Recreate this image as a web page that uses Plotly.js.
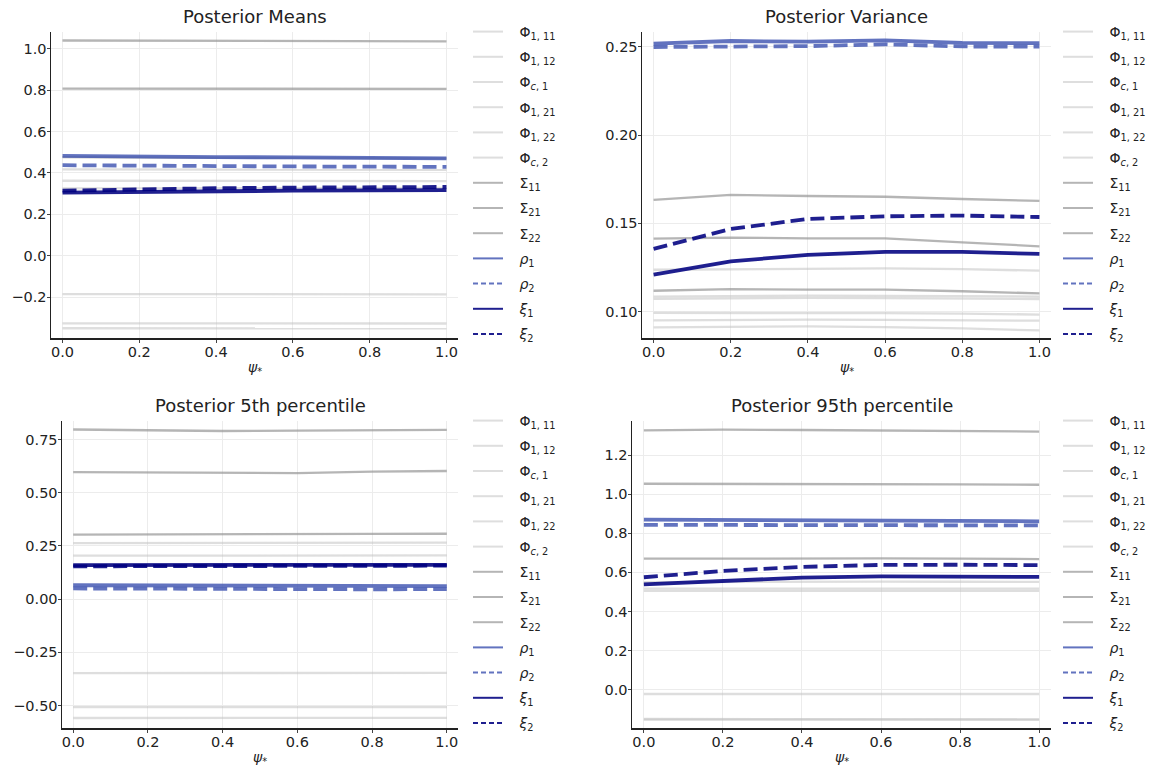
<!DOCTYPE html>
<html>
<head>
<meta charset="utf-8">
<script src="https://cdn.plot.ly/plotly-3.0.1.min.js"></script>
<style>
  html, body { margin: 0; padding: 0; background: #ffffff; }
  #chart { width: 1151px; height: 767px; }
</style>
</head>
<body>
<div id="chart"></div>
<script>
// Grid of psi* values at which the posterior summaries were computed
const psi = [0.0, 0.2, 0.4, 0.6, 0.8, 1.0];

const seriesNames = [
  'Φ<sub>1, 11</sub>', 'Φ<sub>1, 12</sub>', 'Φ<sub><i>c</i>, 1</sub>',
  'Φ<sub>1, 21</sub>', 'Φ<sub>1, 22</sub>', 'Φ<sub><i>c</i>, 2</sub>',
  'Σ<sub>11</sub>', 'Σ<sub>21</sub>', 'Σ<sub>22</sub>',
  '<i>ρ</i><sub>1</sub>', '<i>ρ</i><sub>2</sub>',
  '<i>ξ</i><sub>1</sub>', '<i>ξ</i><sub>2</sub>'
];

const panelTitles = ['Posterior Means', 'Posterior Variance',
                     'Posterior 5th percentile', 'Posterior 95th percentile'];
const xTitle = '<i>ψ</i><sub>*</sub>';

// Rows follow seriesNames order
const postMean = [
  [0.417, 0.417, 0.416, 0.416, 0.415, 0.415],
  [0.362, 0.362, 0.361, 0.361, 0.361, 0.360],
  [0.325, 0.326, 0.327, 0.327, 0.328, 0.328],
  [-0.185, -0.185, -0.186, -0.186, -0.186, -0.186],
  [-0.326, -0.326, -0.327, -0.327, -0.327, -0.327],
  [-0.350, -0.350, -0.350, -0.351, -0.351, -0.351],
  [1.039, 1.038, 1.036, 1.036, 1.035, 1.035],
  [0.476, 0.474, 0.473, 0.472, 0.471, 0.470],
  [0.807, 0.807, 0.806, 0.805, 0.805, 0.805],
  [0.482, 0.477, 0.476, 0.475, 0.472, 0.470],
  [0.437, 0.434, 0.432, 0.431, 0.430, 0.429],
  [0.305, 0.309, 0.312, 0.314, 0.316, 0.317],
  [0.314, 0.321, 0.326, 0.329, 0.331, 0.332]
];

const postVariance = [
  [0.1237, 0.1240, 0.1243, 0.1245, 0.1240, 0.1232],
  [0.1085, 0.1088, 0.1090, 0.1089, 0.1087, 0.1085],
  [0.1072, 0.1075, 0.1077, 0.1076, 0.1074, 0.1071],
  [0.0992, 0.0993, 0.0993, 0.0991, 0.0988, 0.0983],
  [0.0950, 0.0953, 0.0954, 0.0953, 0.0951, 0.0948],
  [0.0910, 0.0914, 0.0916, 0.0912, 0.0905, 0.0893],
  [0.1633, 0.1661, 0.1655, 0.1651, 0.1638, 0.1627],
  [0.1118, 0.1127, 0.1124, 0.1124, 0.1115, 0.1103],
  [0.1413, 0.1419, 0.1415, 0.1415, 0.1392, 0.1370],
  [0.2519, 0.2534, 0.2530, 0.2537, 0.2523, 0.2522],
  [0.2500, 0.2503, 0.2505, 0.2515, 0.2503, 0.2502],
  [0.1209, 0.1285, 0.1321, 0.1338, 0.1338, 0.1327],
  [0.1355, 0.1468, 0.1525, 0.1540, 0.1544, 0.1536]
];

const post05 = [
  [0.263, 0.263, 0.262, 0.262, 0.264, 0.265],
  [0.204, 0.204, 0.203, 0.203, 0.204, 0.205],
  [0.160, 0.160, 0.161, 0.161, 0.161, 0.162],
  [-0.348, -0.348, -0.349, -0.349, -0.348, -0.347],
  [-0.508, -0.508, -0.509, -0.509, -0.508, -0.508],
  [-0.559, -0.559, -0.559, -0.560, -0.559, -0.558],
  [0.797, 0.793, 0.790, 0.792, 0.795, 0.795],
  [0.303, 0.303, 0.304, 0.304, 0.306, 0.307],
  [0.597, 0.596, 0.595, 0.592, 0.599, 0.602],
  [0.065, 0.064, 0.063, 0.062, 0.062, 0.061],
  [0.050, 0.048, 0.048, 0.047, 0.046, 0.047],
  [0.160, 0.160, 0.161, 0.161, 0.161, 0.161],
  [0.154, 0.155, 0.156, 0.156, 0.157, 0.157]
];

const post95 = [
  [0.550, 0.552, 0.553, 0.553, 0.552, 0.551],
  [0.517, 0.517, 0.518, 0.518, 0.517, 0.517],
  [0.505, 0.505, 0.506, 0.506, 0.505, 0.505],
  [-0.022, -0.022, -0.023, -0.023, -0.023, -0.022],
  [-0.150, -0.150, -0.151, -0.151, -0.151, -0.151],
  [-0.153, -0.153, -0.153, -0.154, -0.154, -0.154],
  [1.326, 1.330, 1.328, 1.326, 1.324, 1.320],
  [0.670, 0.671, 0.671, 0.671, 0.670, 0.668],
  [1.053, 1.053, 1.052, 1.052, 1.050, 1.048],
  [0.870, 0.868, 0.866, 0.866, 0.863, 0.861],
  [0.843, 0.842, 0.842, 0.842, 0.840, 0.840],
  [0.538, 0.557, 0.573, 0.579, 0.579, 0.577],
  [0.575, 0.607, 0.628, 0.638, 0.639, 0.637]
];

const panelData = [postMean, postVariance, post05, post95];

// Line styling per series
const phiColor   = 'rgba(190,190,190,0.5)';
const sigmaColor = 'rgba(150,150,150,0.7)';
const rhoColor   = 'rgba(70,90,180,0.85)';
const xiColor    = 'rgba(0,0,128,0.88)';
const seriesColor = [phiColor, phiColor, phiColor, phiColor, phiColor, phiColor,
                     sigmaColor, sigmaColor, sigmaColor,
                     rhoColor, rhoColor, xiColor, xiColor];
const seriesWidth = [2.3, 2.3, 2.3, 2.3, 2.3, 2.3, 2.3, 2.3, 2.3, 3.8, 3.8, 3.8, 3.8];
const seriesDashed = [false, false, false, false, false, false, false, false, false,
                      false, true, false, true];

// Panel placement in pixels and y-axis settings
const W = 1151, H = 767;
const panels = [
  { x0: 51, x1: 458, y0: 32, y1: 338, yr: [-0.397, 1.08], dtick: 0.2, fmt: '.1f' },
  { x0: 642, x1: 1051, y0: 32, y1: 338, yr: [0.085, 0.2585], dtick: 0.05, fmt: '.2f' },
  { x0: 62, x1: 458, y0: 421, y1: 728, yr: [-0.606, 0.837], dtick: 0.25, fmt: '.2f' },
  { x0: 632, x1: 1051, y0: 421, y1: 728, yr: [-0.196, 1.374], dtick: 0.2, fmt: '.1f' }
];
const legendLeft = [468, 1058, 468, 1058];

const font = 'DejaVu Sans, sans-serif';
const ink = '#222222';
const pad = '\u2002\u00a0';
const traces = [];
const legendTraces = [];
const layout = {
  width: W, height: H,
  margin: { l: 0, r: 0, t: 0, b: 0 },
  paper_bgcolor: '#ffffff',
  plot_bgcolor: '#ffffff',
  font: { family: font, size: 14, color: ink },
  showlegend: true,
  annotations: []
};

panels.forEach((p, i) => {
  const k = i === 0 ? '' : String(i + 1);
  const legendKey = 'legend' + k;
  panelData[i].forEach((vals, s) => {
    const dash = seriesDashed[s];
    traces.push({
      type: 'scatter', mode: 'lines',
      x: psi, y: vals,
      xaxis: 'x' + k, yaxis: 'y' + k,
      showlegend: false,
      line: { color: seriesColor[s], width: seriesWidth[s], dash: dash ? '14px,6px' : 'solid' },
      hoverinfo: 'skip'
    });
    // thin key line for the legend box
    legendTraces.push({
      type: 'scatter', mode: 'lines',
      x: [null], y: [null],
      xaxis: 'x' + k, yaxis: 'y' + k,
      name: pad + seriesNames[s],
      legend: legendKey,
      legendgroup: 'g' + i + '_' + s,
      line: { color: seriesColor[s], width: 2, dash: dash ? '5px,3px' : 'solid' },
      hoverinfo: 'skip'
    });
  });

  const axisCommon = {
    showline: true, linecolor: ink, linewidth: 1.5, mirror: false,
    showgrid: true, gridcolor: '#ececec', gridwidth: 1,
    zeroline: false,
    ticks: 'outside', ticklen: 3, tickwidth: 1, tickcolor: '#444444',
    ticklabelstandoff: -3,
    tickfont: { family: font, size: 14.5, color: ink }
  };
  layout['xaxis' + k] = Object.assign({}, axisCommon, {
    domain: [p.x0 / W, p.x1 / W],
    anchor: 'y' + k,
    range: [-0.03, 1.03],
    tick0: 0, dtick: 0.2, tickformat: '.1f'
  });
  layout['yaxis' + k] = Object.assign({}, axisCommon, {
    domain: [1 - p.y1 / H, 1 - p.y0 / H],
    anchor: 'x' + k,
    range: p.yr,
    tick0: 0, dtick: p.dtick, tickformat: p.fmt
  });
  layout[legendKey] = {
    x: legendLeft[i] / W, xanchor: 'left',
    y: 1 - (p.y0 - 16) / H, yanchor: 'top',
    bgcolor: 'rgba(0,0,0,0)', borderwidth: 0,
    font: { family: font, size: 14, color: ink },
    tracegroupgap: 4,
    itemclick: false, itemdoubleclick: false
  };
  layout.annotations.push({
    xref: 'paper', yref: 'paper',
    x: (p.x0 + p.x1) / 2 / W, y: 1 - (p.y0 - 15) / H,
    xanchor: 'center', yanchor: 'middle',
    text: panelTitles[i], showarrow: false,
    font: { family: font, size: 18, color: ink }
  });
  layout.annotations.push({
    xref: 'paper', yref: 'paper',
    x: (p.x0 + p.x1) / 2 / W, y: 1 - (p.y1 + 30) / H,
    xanchor: 'center', yanchor: 'middle',
    text: xTitle, showarrow: false,
    font: { family: font, size: 14, color: ink }
  });
});

Plotly.newPlot('chart', traces.concat(legendTraces), layout, { staticPlot: true, displayModeBar: false });
</script>
</body>
</html>
